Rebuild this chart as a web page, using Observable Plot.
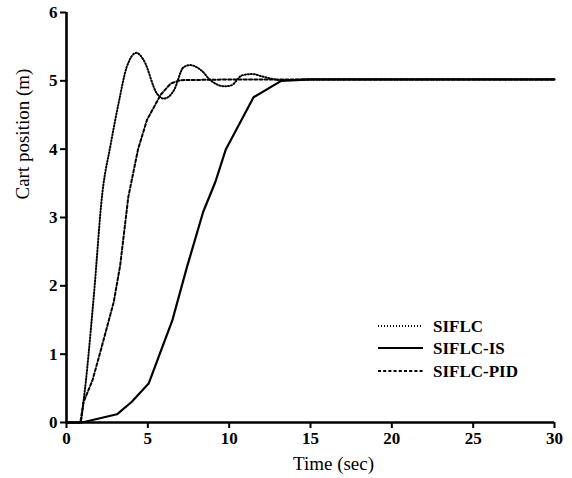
<!DOCTYPE html>
<html>
<head>
<meta charset="utf-8">
<script src="https://cdn.jsdelivr.net/npm/d3@7"></script>
<script src="https://cdn.jsdelivr.net/npm/@observablehq/plot@0.6"></script>
<style>
  body { margin: 0; background: #fff; }
  #wrap { position: relative; width: 572px; height: 478px; font-family: "Liberation Serif", serif; }
  #legend { position: absolute; left: 0; top: 0; }
  text { font-family: "Liberation Serif", serif; }
</style>
</head>
<body>
<div id="wrap"></div>
<script>
const seriesNames = ["SIFLC", "SIFLC-IS", "SIFLC-PID"];
const xTicks = [0, 5, 10, 15, 20, 25, 30];
const yTicks = [0, 1, 2, 3, 4, 5, 6];

const siflcT = [0, 0.85, 1.05, 1.66, 2.2, 2.7, 3.2, 3.7, 4.3, 4.75, 5.57, 5.98, 6.6, 7.2, 7.6, 8.3, 8.85, 9.7, 10.1, 10.8, 11.4, 12.1, 13.2, 15, 20, 25, 30];
const siflcV = [0, 0, 0.32, 1.8, 3.35, 4.05, 4.67, 5.2, 5.41, 5.3, 4.81, 4.74, 4.86, 5.2, 5.23, 5.15, 5.01, 4.92, 4.93, 5.08, 5.1, 5.06, 5.01, 5.02, 5.02, 5.02, 5.02];

const isT = [0, 0.95, 3.1, 4.0, 5.05, 6.5, 7.4, 8.4, 9.15, 9.8, 11.5, 13.2, 15, 20, 25, 30];
const isV = [0, 0, 0.12, 0.3, 0.57, 1.49, 2.27, 3.08, 3.52, 4.0, 4.76, 5.0, 5.02, 5.02, 5.02, 5.02];

const pidT = [0, 0.85, 1.05, 1.6, 2.1, 2.9, 3.3, 3.8, 4.4, 4.95, 5.8, 6.4, 7.0, 10, 15, 20, 25, 30];
const pidV = [0, 0, 0.3, 0.62, 1.05, 1.76, 2.3, 3.3, 4.0, 4.43, 4.8, 4.96, 5.01, 5.02, 5.02, 5.02, 5.02, 5.02];

const toRows = (name, ts, vs) => ts.map((t, i) => ({series: name, t, v: vs[i]}));
const siflc = toRows(seriesNames[0], siflcT, siflcV);
const sis = toRows(seriesNames[1], isT, isV);
const spid = toRows(seriesNames[2], pidT, pidV);

const styles = {
  "SIFLC": {dash: "1,2", width: 2},
  "SIFLC-IS": {dash: null, width: 2.2},
  "SIFLC-PID": {dash: "3,2.2", width: 2}
};

const font = "Liberation Serif";

const chart = Plot.plot({
  width: 572,
  height: 478,
  marginLeft: 66,
  marginRight: 18,
  marginTop: 12,
  marginBottom: 56,
  style: {fontFamily: font, background: "#fff", color: "#000"},
  x: {domain: [0, 30]},
  y: {domain: [0, 6]},
  marks: [
    Plot.axisX({ticks: xTicks, tickSize: 6, tickPadding: 3, fontSize: 17, fontWeight: "bold", fontFamily: font, strokeWidth: 2, label: null, tickFormat: d => String(d)}),
    Plot.axisY({ticks: yTicks, tickSize: 6, tickPadding: 3, fontSize: 17, fontWeight: "bold", fontFamily: font, strokeWidth: 2, label: null, tickFormat: d => String(d)}),
    Plot.ruleX([0], {stroke: "#000", strokeWidth: 2.6}),
    Plot.ruleY([0], {stroke: "#000", strokeWidth: 2.6}),
    Plot.line(siflc, {x: "t", y: "v", stroke: "#000", strokeWidth: styles["SIFLC"].width, strokeDasharray: styles["SIFLC"].dash, curve: "monotone-x"}),
    Plot.line(spid, {x: "t", y: "v", stroke: "#000", strokeWidth: styles["SIFLC-PID"].width, strokeDasharray: styles["SIFLC-PID"].dash}),
    Plot.line(sis, {x: "t", y: "v", stroke: "#000", strokeWidth: styles["SIFLC-IS"].width}),
    Plot.text(["Time (sec)"], {frameAnchor: "bottom", dx: 23, dy: 47, fontSize: 19, fill: "#000", fontFamily: font}),
    Plot.text(["Cart position (m)"], {frameAnchor: "left", rotate: -90, dx: -44, dy: -18, fontSize: 19, fill: "#000", fontFamily: font})
  ]
});

const wrap = document.getElementById("wrap");
wrap.appendChild(chart);

// Legend overlay
const ns = "http://www.w3.org/2000/svg";
const leg = document.createElementNS(ns, "svg");
leg.setAttribute("id", "legend");
leg.setAttribute("width", 572);
leg.setAttribute("height", 478);
const rowsY = [326, 348, 371];
seriesNames.forEach((name, i) => {
  const ln = document.createElementNS(ns, "line");
  ln.setAttribute("x1", 378); ln.setAttribute("x2", 423);
  ln.setAttribute("y1", rowsY[i]); ln.setAttribute("y2", rowsY[i]);
  ln.setAttribute("stroke", "#000");
  ln.setAttribute("stroke-width", styles[name].width);
  if (styles[name].dash) ln.setAttribute("stroke-dasharray", styles[name].dash);
  leg.appendChild(ln);
  const tx = document.createElementNS(ns, "text");
  tx.setAttribute("x", 433); tx.setAttribute("y", rowsY[i] + 6);
  tx.setAttribute("font-family", font);
  tx.setAttribute("font-size", 17);
  tx.setAttribute("font-weight", "bold");
  tx.textContent = name;
  leg.appendChild(tx);
});
wrap.appendChild(leg);
</script>
</body>
</html>
